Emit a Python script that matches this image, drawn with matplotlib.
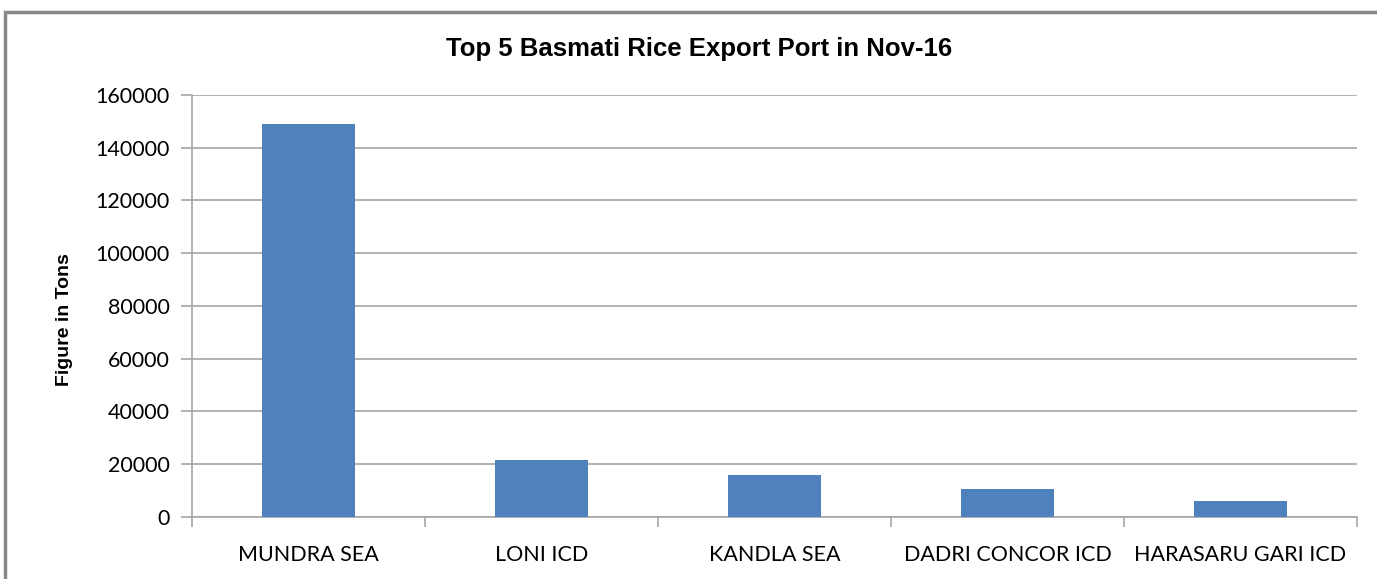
import numpy as np
import matplotlib.pyplot as plt
from matplotlib.patches import Rectangle

ports = ['MUNDRA SEA', 'LONI ICD', 'KANDLA SEA', 'DADRI CONCOR ICD', 'HARASARU GARI ICD']
tons = [148800, 21500, 15800, 10450, 6000]

fig = plt.figure(figsize=(13.77, 5.79), dpi=100)
ax = fig.add_axes([0.1394, 0.1071, 0.8461, 0.7289])

# outer chart border (clipped at right/bottom like the screenshot)
fig.patches.append(Rectangle((0.0036, -0.1), 1.2, 1.08, transform=fig.transFigure,
                             fill=False, edgecolor='#888888', linewidth=2.5))

x = np.arange(len(ports))
ax.bar(x, tons, width=0.4, color='#4f81bd', zorder=3)

ax.set_xlim(-0.5, len(ports) - 0.5)
ax.set_ylim(0, 160000)
ax.set_yticks(np.arange(0, 160001, 20000))
ax.yaxis.grid(True, color='#a6a6a6', linewidth=1.2, zorder=0)

ax.set_xticks(x)
ax.set_xticklabels(ports, fontsize=15.5, family='Lato')
ax.set_xticks(np.arange(-0.5, len(ports)), minor=True)
ax.tick_params(axis='x', which='major', length=0, pad=20)
ax.tick_params(axis='x', which='minor', length=7, color='#a6a6a6', width=1.2)
ax.tick_params(axis='y', length=8, color='#a6a6a6', width=1.2, labelsize=15.5, pad=8)
for lbl in ax.get_yticklabels():
    lbl.set_family('Lato')

for s in ['top', 'right']:
    ax.spines[s].set_visible(False)
for s in ['left', 'bottom']:
    ax.spines[s].set_color('#a6a6a6')
    ax.spines[s].set_linewidth(1.2)

ax.set_ylabel('Figure in Tons', fontsize=14, fontweight='bold', family='Liberation Sans')
ax.yaxis.set_label_coords(-0.102, 0.467)
fig.text(0.508, 0.915, 'Top 5 Basmati Rice Export Port in Nov-16', ha='center', va='center',
         fontsize=18.5, fontweight='bold', family='Liberation Sans')

plt.savefig('out.png', dpi=100)
